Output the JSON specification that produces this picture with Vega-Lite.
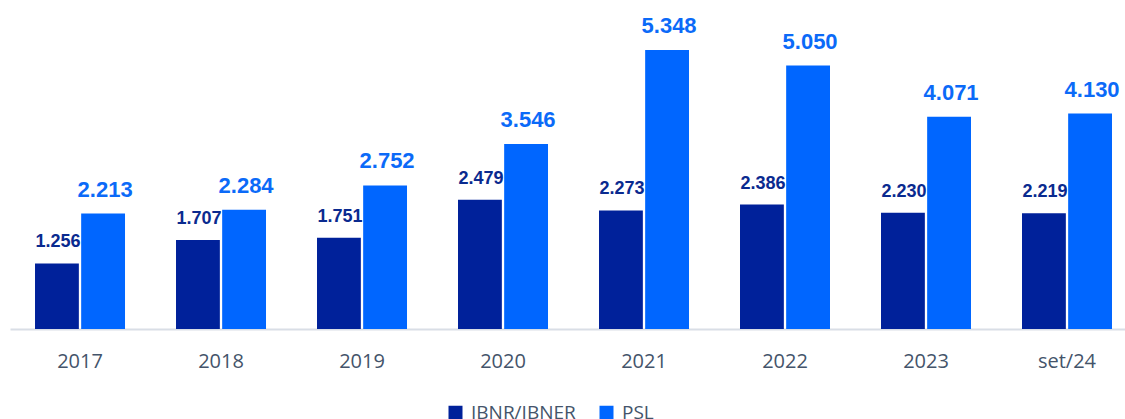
{
  "$schema": "https://vega.github.io/schema/vega-lite/v6.json",
  "autosize": {"type": "none"},
  "width": 1115,
  "height": 313,
  "padding": {"left": 10, "top": 16, "right": 0, "bottom": 90},
  "config": {
    "view": {"stroke": null},
    "locale": {"number": {"decimal": ",", "thousands": ".", "grouping": [3], "currency": ["R$", ""]}}
  },
  "data": {
    "values": [
      {"ano": "2017", "serie": "IBNR/IBNER", "valor": 1256},
      {"ano": "2017", "serie": "PSL", "valor": 2213},
      {"ano": "2018", "serie": "IBNR/IBNER", "valor": 1707},
      {"ano": "2018", "serie": "PSL", "valor": 2284},
      {"ano": "2019", "serie": "IBNR/IBNER", "valor": 1751},
      {"ano": "2019", "serie": "PSL", "valor": 2752},
      {"ano": "2020", "serie": "IBNR/IBNER", "valor": 2479},
      {"ano": "2020", "serie": "PSL", "valor": 3546},
      {"ano": "2021", "serie": "IBNR/IBNER", "valor": 2273},
      {"ano": "2021", "serie": "PSL", "valor": 5348},
      {"ano": "2022", "serie": "IBNR/IBNER", "valor": 2386},
      {"ano": "2022", "serie": "PSL", "valor": 5050},
      {"ano": "2023", "serie": "IBNR/IBNER", "valor": 2230},
      {"ano": "2023", "serie": "PSL", "valor": 4071},
      {"ano": "set/24", "serie": "IBNR/IBNER", "valor": 2219},
      {"ano": "set/24", "serie": "PSL", "valor": 4130}
    ]
  },
  "encoding": {
    "x": {
      "field": "ano", "type": "nominal", "sort": null,
      "scale": {"paddingInner": 0.3617, "paddingOuter": 0.1348, "align": 0.658},
      "axis": {
        "title": null, "labelAngle": 0, "ticks": false, "tickSize": 0,
        "labelFont": "Open Sans", "labelFontSize": 20, "labelColor": "#44546A",
        "labelBaseline": "alphabetic", "labelPadding": 38,
        "domainColor": "#D9DEE6", "domainWidth": 2, "grid": false
      }
    },
    "xOffset": {"field": "serie", "type": "nominal", "sort": ["IBNR/IBNER", "PSL"], "scale": {"paddingInner": 0.05}},
    "y": {
      "field": "valor", "type": "quantitative",
      "scale": {"domain": [0, 6000]},
      "axis": null
    }
  },
  "layer": [
    {
      "mark": {"type": "bar"},
      "encoding": {
        "color": {
          "field": "serie", "type": "nominal",
          "scale": {"domain": ["IBNR/IBNER", "PSL"], "range": ["#00219A", "#0066FF"]},
          "legend": {
            "title": null, "orient": "none", "direction": "horizontal",
            "legendX": 436, "legendY": 387, "padding": 0,
            "symbolType": "square", "symbolSize": 196, "symbolStrokeWidth": 0,
            "labelFont": "Open Sans", "labelFontSize": 19, "labelColor": "#44546A",
            "labelOffset": 6, "columnPadding": 21
          }
        }
      }
    },
    {
      "transform": [{"filter": "datum.serie === 'IBNR/IBNER'"}],
      "mark": {"type": "text", "baseline": "alphabetic", "dy": -16, "dx": 1, "font": "Liberation Sans", "fontWeight": "bold", "fontSize": 18, "color": "#0A2A8F"},
      "encoding": {"text": {"field": "valor", "type": "quantitative", "format": ",d"}}
    },
    {
      "transform": [{"filter": "datum.serie === 'PSL'"}],
      "mark": {"type": "text", "baseline": "alphabetic", "dy": -17, "dx": 2, "font": "Liberation Sans", "fontWeight": "bold", "fontSize": 22, "color": "#0B6AF8"},
      "encoding": {"text": {"field": "valor", "type": "quantitative", "format": ",d"}}
    }
  ]
}
